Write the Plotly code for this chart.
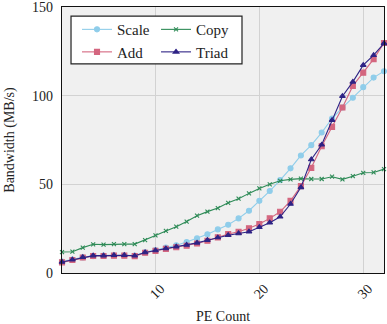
import plotly.graph_objects as go

pe_count = list(range(1, 33))

scale = [6.4, 7.6, 8.8, 9.5, 9.8, 10.0, 10.0, 9.8, 11.7, 12.9, 14.3, 15.6,
         17.5, 19.5, 21.8, 24.6, 27.2, 30.8, 35.1, 40.7, 46.2, 52.4, 59.0, 66.3,
         72.1, 79.2, 87.1, 93.3, 98.8, 104.8, 110.2, 113.8]
copy = [11.8, 12.0, 14.3, 16.2, 16.0, 16.3, 16.3, 16.3, 18.6, 21.2, 23.7, 26.1,
        29.0, 32.3, 34.6, 36.6, 39.6, 41.9, 44.9, 47.7, 50.0, 52.0, 52.8, 53.2,
        53.0, 53.0, 54.3, 52.8, 54.6, 56.5, 56.7, 58.6]
add = [6.0, 7.3, 8.7, 9.6, 9.6, 9.8, 9.8, 9.5, 11.4, 12.5, 13.6, 14.5,
       15.4, 16.6, 18.2, 20.1, 22.0, 23.3, 25.2, 27.6, 30.8, 34.5, 40.7, 49.0,
       59.3, 71.5, 82.4, 93.3, 105.5, 113.0, 120.6, 129.7]
triad = [6.2, 7.5, 8.9, 9.8, 9.8, 10.0, 10.0, 9.7, 11.6, 12.7, 13.8, 14.8,
         15.8, 17.0, 18.5, 20.0, 21.3, 22.3, 23.3, 25.8, 28.4, 31.7, 38.9, 48.3,
         64.0, 72.3, 86.2, 99.7, 107.8, 117.2, 122.8, 129.5]

x_ticks = [10, 20, 30]
y_ticks = [0, 50, 100, 150]

FONT = "Liberation Serif"

fig = go.Figure()
series = [
    ("Scale", scale, "#8fcdea", "circle", 5, "legend"),
    ("Copy", copy, "#2e8b57", "x-thin", 4, "legend2"),
    ("Add", add, "#d4667f", "square", 5, "legend"),
    ("Triad", triad, "#2e2385", "triangle-up", 5, "legend2"),
]
for name, vals, col, sym, sz, lg in series:
    fig.add_trace(go.Scatter(
        x=pe_count, y=vals, name=name, mode="lines+markers",
        line=dict(color=col, width=1.1),
        marker=dict(symbol=sym, size=sz, color=col,
                    line=dict(color=col, width=1.1)),
        legend=lg, cliponaxis=False,
    ))

legend_common = dict(
    bgcolor="rgba(0,0,0,0)", borderwidth=0,
    font=dict(family=FONT, size=15, color="#222"),
    xanchor="left", yanchor="top", orientation="v",
    tracegroupgap=0, itemwidth=30,
)
fig.update_layout(
    width=387, height=324,
    margin=dict(l=62, r=3, t=7, b=51, autoexpand=False),
    paper_bgcolor="white",
    plot_bgcolor="#f0f0f0",
    font=dict(family=FONT, size=14, color="#222"),
    legend=dict(x=0.0466, y=0.977, **legend_common),
    legend2=dict(x=0.292, y=0.977, **legend_common),
    shapes=[dict(type="rect", xref="paper", yref="paper",
                 x0=0.028, x1=0.559, y0=0.786, y1=0.966,
                 fillcolor="white", line=dict(color="#222", width=1.2),
                 layer="above")],
)
fig.update_xaxes(
    range=[1, 32], tickvals=x_ticks, tickangle=-45, ticklabelshift=5,
    automargin=False, ticklabeloverflow="allow",
    showgrid=True, gridcolor="#d2d2d2", gridwidth=1,
    showline=True, linecolor="#111", linewidth=1.3, mirror=True,
    ticks="outside", ticklen=1, tickcolor="rgba(0,0,0,0)",
    zeroline=False,
    title=dict(text="PE Count", font=dict(family=FONT, size=14), standoff=26),
    tickfont=dict(family=FONT, size=14),
)
fig.update_yaxes(
    range=[0, 150], tickvals=y_ticks,
    automargin=False, ticklabeloverflow="allow",
    showgrid=True, gridcolor="#d2d2d2", gridwidth=1,
    showline=True, linecolor="#111", linewidth=1.3, mirror=True,
    ticks="outside", ticklen=5, tickcolor="rgba(0,0,0,0)",
    zeroline=False,
    title=dict(text="Bandwidth (MB/s)", font=dict(family=FONT, size=14), standoff=14),
    tickfont=dict(family=FONT, size=14),
)
fig.write_html("out.html")
